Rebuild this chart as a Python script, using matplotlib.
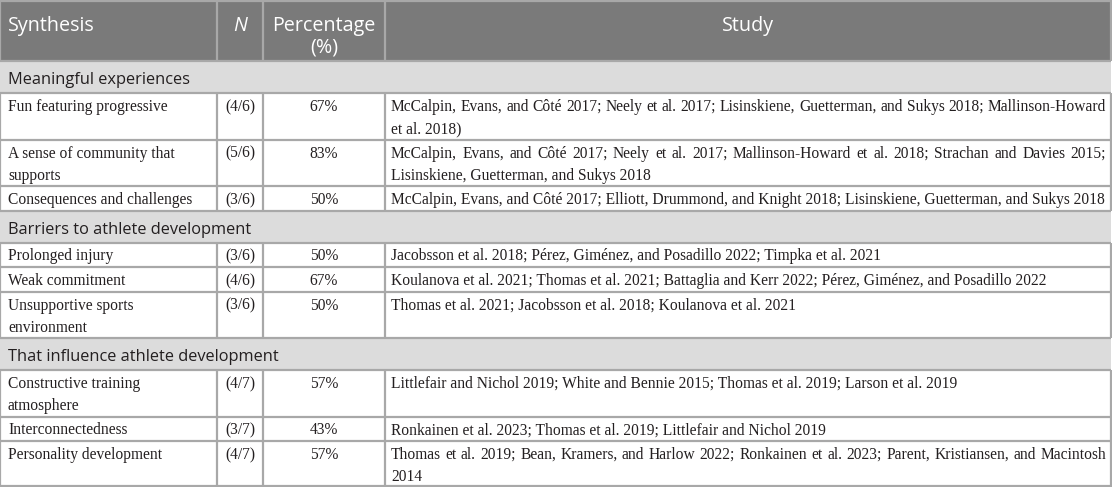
import matplotlib
matplotlib.use("Agg")
import matplotlib.pyplot as plt
from matplotlib.patches import Rectangle

W, H = 1112, 487

header_labels = ["Synthesis", "N", "Percentage\n(%)", "Study"]
sections = ["Meaningful experiences",
            "Barriers to athlete development",
            "That influence athlete development"]
synthesis = [
    ["Fun featuring progressive", "A sense of community that\nsupports", "Consequences and challenges"],
    ["Prolonged injury", "Weak commitment", "Unsupportive sports\nenvironment"],
    ["Constructive training\natmosphere", "Interconnectedness", "Personality development"],
]
n_found = [[4, 5, 3], [3, 4, 3], [4, 3, 4]]
n_total = [[6, 6, 6], [6, 6, 6], [7, 7, 7]]
percentages = [[67, 83, 50], [50, 67, 50], [57, 43, 57]]
studies = [
    [["McCalpin, Evans, and Côté 2017; Neely et al. 2017; Lisinskiene, Guetterman, and Sukys 2018; Mallinson-Howard",
      "et al. 2018)"],
     ["McCalpin, Evans, and Côté 2017; Neely et al. 2017; Mallinson-Howard et al. 2018; Strachan and Davies 2015;",
      "Lisinskiene, Guetterman, and Sukys 2018"],
     ["McCalpin, Evans, and Côté 2017; Elliott, Drummond, and Knight 2018; Lisinskiene, Guetterman, and Sukys 2018"]],
    [["Jacobsson et al. 2018; Pérez, Giménez, and Posadillo 2022; Timpka et al. 2021"],
     ["Koulanova et al. 2021; Thomas et al. 2021; Battaglia and Kerr 2022; Pérez, Giménez, and Posadillo 2022"],
     ["Thomas et al. 2021; Jacobsson et al. 2018; Koulanova et al. 2021"]],
    [["Littlefair and Nichol 2019; White and Bennie 2015; Thomas et al. 2019; Larson et al. 2019"],
     ["Ronkainen et al. 2023; Thomas et al. 2019; Littlefair and Nichol 2019"],
     ["Thomas et al. 2019; Bean, Kramers, and Harlow 2022; Ronkainen et al. 2023; Parent, Kristiansen, and Macintosh",
      "2014"]],
]

# layout
cols = [0, 217, 263, 385, 1111]
header_h = 61
section_h = 32
line1_h = 24.5
line_step = 22
header_bg = "#7a7a7a"
section_bg = "#dcdcdc"
grid_c = "#a8a8a8"
ink = "#231f20"
sans = "Open Sans"
serif = "Liberation Serif"
body_size = 11.2

fig = plt.figure(figsize=(W / 100, H / 100), dpi=100)
ax = fig.add_axes([0, 0, 1, 1])
ax.set_xlim(0, W)
ax.set_ylim(H, 0)
ax.axis("off")
renderer = fig.canvas.get_renderer()


def text_width(s, **kw):
    t = ax.text(0, 0, s, **kw)
    w = t.get_window_extent(renderer).width
    t.remove()
    return w


def justified(words, x0, x1, y, **kw):
    widths = [text_width(w, **kw) for w in words]
    gap = (x1 - x0 - sum(widths)) / max(len(words) - 1, 1)
    x = x0
    for w, wd in zip(words, widths):
        ax.text(x, y, w, ha="left", va="baseline", **kw)
        x += wd + gap


hline = lambda y: ax.plot([0, cols[-1]], [y, y], color=grid_c, lw=1.6, solid_capstyle="butt")
vline = lambda x, y0, y1: ax.plot([x, x], [y0, y1], color=grid_c, lw=1.6, solid_capstyle="butt")

# header
ax.add_patch(Rectangle((0, 0), cols[-1], header_h, color=header_bg, lw=0))
hdr = dict(color="white", fontsize=14.2, family=sans, va="baseline")
ax.text(8, 31, header_labels[0], ha="left", **hdr)
ax.text((cols[1] + cols[2]) / 2, 31, header_labels[1], ha="center", style="italic", **hdr)
p1, p2 = header_labels[2].split("\n")
ax.text((cols[2] + cols[3]) / 2, 31, p1, ha="center", **hdr)
ax.text((cols[2] + cols[3]) / 2, 53, p2, ha="center", **hdr)
ax.text((cols[3] + cols[4]) / 2, 31, header_labels[3], ha="center", **hdr)
for x in cols:
    vline(x, 0, header_h)
hline(1)

body = dict(color=ink, fontsize=body_size, family=serif)
y = header_h
for s, name in enumerate(sections):
    hline(y)
    ax.add_patch(Rectangle((0, y), cols[-1], section_h, color=section_bg, lw=0))
    ax.text(8, y + 23, name, ha="left", va="baseline", color=ink, fontsize=11.8, family=sans)
    y += section_h
    for r in range(len(synthesis[s])):
        syn_lines = synthesis[s][r].split("\n")
        st_lines = studies[s][r]
        n_lines = max(len(syn_lines), len(st_lines))
        h = line1_h + line_step * (n_lines - 1)
        hline(y)
        for x in cols:
            vline(x, y, y + h)
        ty = y + 18
        for i, ln in enumerate(syn_lines):
            ax.text(8, ty + i * line_step, ln, ha="left", va="baseline", **body)
        ax.text((cols[1] + cols[2]) / 2, ty, f"({n_found[s][r]}/{n_total[s][r]})",
                ha="center", va="baseline", **body)
        ax.text((cols[2] + cols[3]) / 2, ty, f"{percentages[s][r]}%", ha="center", va="baseline", **body)
        for i, ln in enumerate(st_lines):
            if i < len(st_lines) - 1:
                justified(ln.split(" "), 391, 1106, ty + i * line_step, **body)
            else:
                ax.text(391, ty + i * line_step, ln, ha="left", va="baseline", **body)
        y += h
hline(H - 1)

fig.savefig("out.png", dpi=100)
